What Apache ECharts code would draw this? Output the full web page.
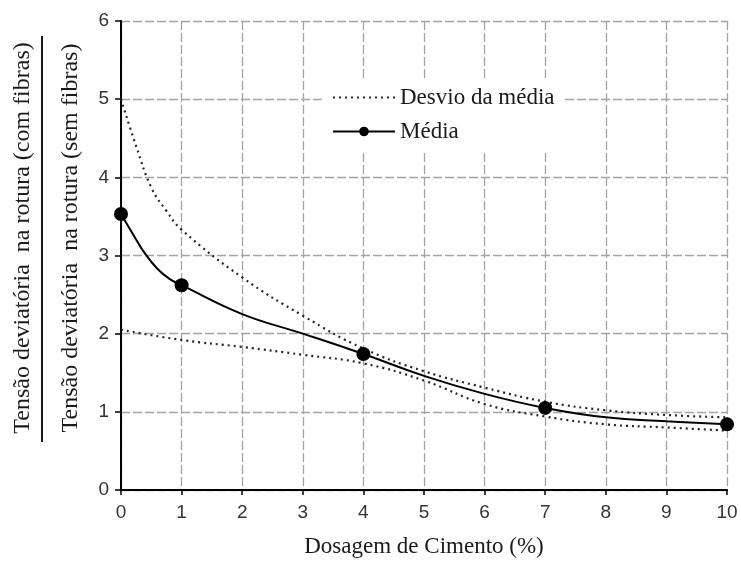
<!DOCTYPE html>
<html>
<head>
<meta charset="utf-8">
<script src="https://cdn.jsdelivr.net/npm/echarts@6/dist/echarts.min.js"></script>
<style>
  html, body { margin: 0; padding: 0; background: #fff; }
  #chart { width: 741px; height: 563px; }
</style>
</head>
<body>
<div id="chart"></div>
<script>
// Cement dosage (%) on the x axis
const xTickLabels = ['0', '1', '2', '3', '4', '5', '6', '7', '8', '9', '10'];
const yTickLabels = ['0', '1', '2', '3', '4', '5', '6'];

// Mean strength ratio trace; markers only at the tested dosages
const mediaX = [0, 0.2, 0.4, 0.6, 0.8, 1, 2, 3, 4, 5, 6, 7, 8, 9, 10];
const mediaY = [3.53, 3.27, 3.02, 2.83, 2.70, 2.62, 2.25, 2.0, 1.74, 1.46, 1.23, 1.05, 0.93, 0.88, 0.84];
const testedDosages = [0, 1, 4, 7, 10];

// Upper and lower bounds of the deviation from the mean
const upperX = [0, 0.25, 0.5, 0.75, 1, 2, 3, 4, 5, 6, 7, 8, 9, 10];
const upperY = [5.0, 4.40, 3.87, 3.57, 3.33, 2.72, 2.23, 1.81, 1.52, 1.31, 1.13, 1.02, 0.96, 0.93];
const lowerX = [0, 1, 2, 3, 4, 5, 6, 7, 8, 9, 10];
const lowerY = [2.05, 1.92, 1.83, 1.73, 1.62, 1.40, 1.10, 0.94, 0.84, 0.80, 0.76];

const serif = '"Liberation Serif", "DejaVu Serif", serif';
const sans = '"Liberation Sans", Arial, sans-serif';

const pairs = (xs, ys) => xs.map((x, i) => [x, ys[i]]);

const mediaData = mediaX.map((x, i) => {
  const item = { value: [x, mediaY[i]] };
  if (testedDosages.indexOf(x) < 0) item.symbol = 'none';
  return item;
});

const gridLine = { show: true, lineStyle: { color: '#a4a4a4', width: 1.3, type: [9, 3] } };
const dotted = { color: '#262626', width: 2.2, type: [2, 4] };

const chart = echarts.init(document.getElementById('chart'), null, { renderer: 'canvas' });
chart.setOption({
  animation: false,
  backgroundColor: '#fff',
  grid: { left: 121, right: 14, top: 21, bottom: 71 },
  legend: {
    data: [
      { name: 'Desvio da média', itemStyle: { opacity: 0 } },
      { name: 'Média' }
    ],
    orient: 'vertical',
    left: 323,
    top: 78,
    itemGap: 11,
    itemWidth: 62,
    itemHeight: 12,
    backgroundColor: '#fff',
    padding: [8, 10, 10, 9],
    textStyle: { fontFamily: serif, fontSize: 23, color: '#1a1a1a' }
  },
  xAxis: {
    type: 'value',
    min: 0, max: 10, interval: 1,
    name: 'Dosagem de Cimento (%)',
    nameLocation: 'middle',
    nameGap: 45,
    nameTextStyle: { fontFamily: serif, fontSize: 23, color: '#1a1a1a' },
    axisLine: { show: true, lineStyle: { color: '#000', width: 2 } },
    axisTick: { show: true, inside: false, length: 5, lineStyle: { color: '#000', width: 1.5 } },
    axisLabel: {
      margin: 13, fontFamily: sans, fontSize: 19, color: '#333',
      formatter: v => xTickLabels[Math.round(v)]
    },
    splitLine: gridLine
  },
  yAxis: {
    type: 'value',
    min: 0, max: 6, interval: 1,
    axisLine: { show: true, lineStyle: { color: '#000', width: 2 } },
    axisTick: { show: true, inside: false, length: 6, lineStyle: { color: '#000', width: 1.5 } },
    axisLabel: {
      margin: 12, fontFamily: sans, fontSize: 19, color: '#333',
      formatter: v => yTickLabels[Math.round(v)]
    },
    splitLine: gridLine
  },
  series: [
    {
      name: 'Desvio da média', type: 'line', smooth: 0.45,
      symbol: 'none', data: pairs(upperX, upperY), lineStyle: dotted,
      itemStyle: { color: '#262626' }, z: 3
    },
    {
      name: 'Desvio da média', type: 'line', smooth: 0.45,
      symbol: 'none', data: pairs(lowerX, lowerY), lineStyle: dotted,
      itemStyle: { color: '#262626' }, z: 3
    },
    {
      name: 'Média', type: 'line', smooth: 0.45,
      symbol: 'circle', symbolSize: 14, showAllSymbol: true,
      itemStyle: { color: '#000' },
      lineStyle: { color: '#000', width: 2 },
      data: mediaData, z: 4
    }
  ],
  graphic: [
    {
      type: 'text', x: 23, y: 238, rotation: Math.PI / 2,
      style: {
        text: 'Tensão deviatória  na rotura (com fibras)',
        font: '24px ' + serif, fill: '#1a1a1a',
        textAlign: 'center', textVerticalAlign: 'middle'
      }
    },
    {
      type: 'line',
      shape: { x1: 42, y1: 36, x2: 42, y2: 442 },
      style: { stroke: '#1a1a1a', lineWidth: 2 }
    },
    {
      type: 'text', x: 71, y: 238, rotation: Math.PI / 2,
      style: {
        text: 'Tensão deviatória  na rotura (sem fibras)',
        font: '24px ' + serif, fill: '#1a1a1a',
        textAlign: 'center', textVerticalAlign: 'middle'
      }
    }
  ]
});
</script>
</body>
</html>
